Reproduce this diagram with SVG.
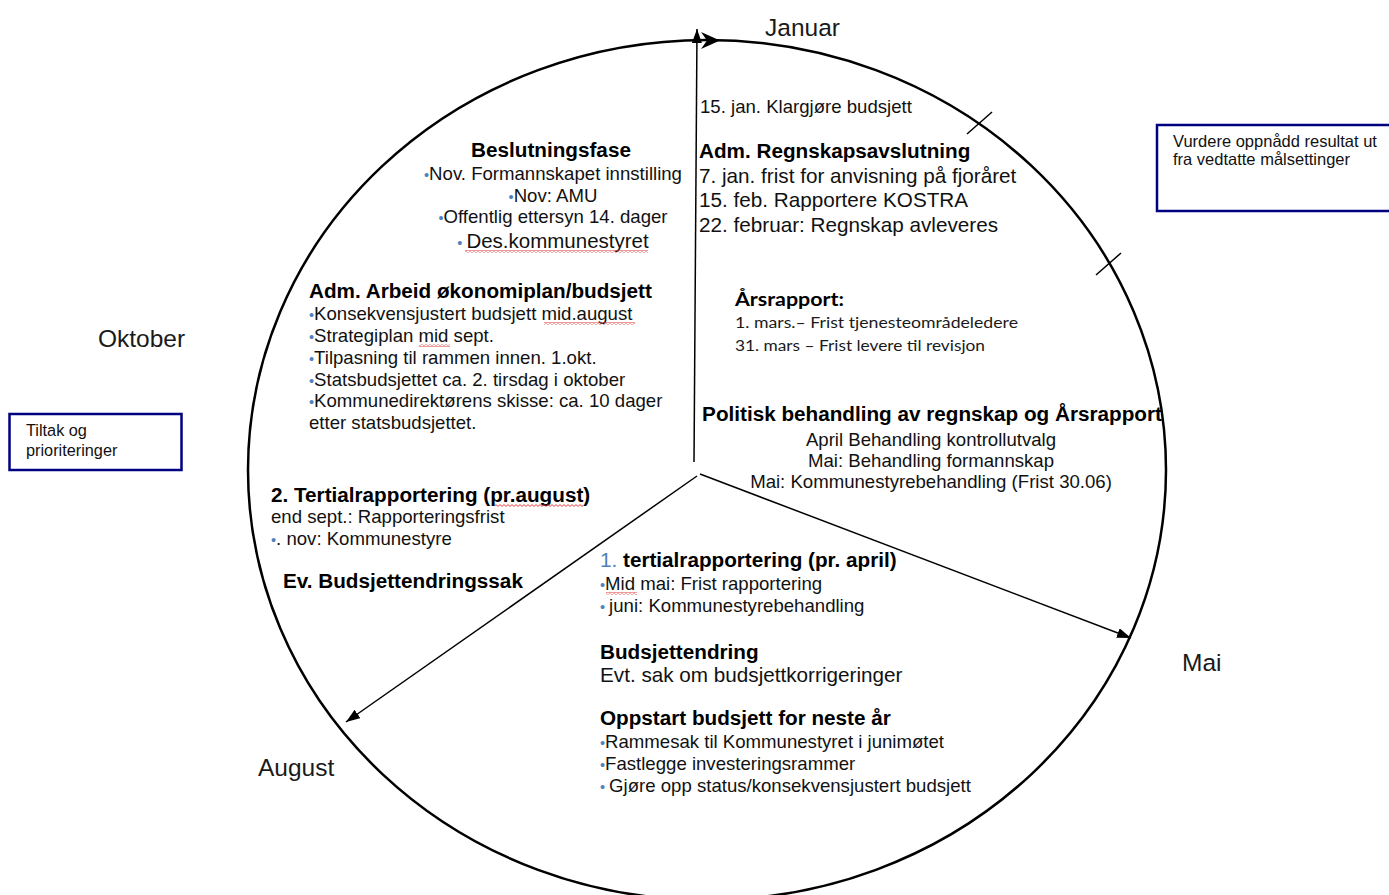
<svg xmlns="http://www.w3.org/2000/svg" width="1389" height="895" viewBox="0 0 1389 895">
<defs>
<style>
text{font-family:"Liberation Sans",Arial,sans-serif;fill:#111;}
.b{font-weight:bold;font-size:20.7px;fill:#000;}
.r{font-size:18.6px;}
.m{font-size:20.7px;}
.mo{font-size:24.5px;fill:#1a1a1a;}
.bl{fill:#4F81BD;font-size:14.5px;}
.cal{font-family:Lato,"Open Sans",sans-serif;fill:#1a1a1a;}
.box{fill:#fff;stroke:#000080;stroke-width:2.5;}
.bx{font-size:16.5px;}
.ln{stroke:#000;stroke-width:1.5;fill:none;}
</style>
<marker id="ah" markerUnits="userSpaceOnUse" markerWidth="16" markerHeight="12" refX="14" refY="5" orient="auto">
<path d="M0,0 L14,5 L0,10 z" fill="#000"/>
</marker>
<pattern id="sq" patternUnits="userSpaceOnUse" width="4" height="3">
<path d="M0,0.6 L2,2.4 L4,0.6" stroke="#e03030" stroke-width="0.9" fill="none"/>
</pattern>
</defs>

<g id="wheel">
<ellipse cx="707" cy="470" rx="459" ry="430" fill="none" stroke="#000" stroke-width="2.5"/>
<polygon points="701,32 720,40.5 701,49 707,40.5" fill="#000"/>
<line x1="967" y1="134" x2="992" y2="112" stroke="#000" stroke-width="1.5"/>
<line x1="1096" y1="275" x2="1121" y2="253" stroke="#000" stroke-width="1.5"/>
</g>

<g id="connectors">
<line class="ln" x1="694" y1="462" x2="697" y2="29" marker-end="url(#ah)"/>
<line class="ln" x1="700" y1="474" x2="1131" y2="638" marker-end="url(#ah)"/>
<line class="ln" x1="697" y1="476" x2="346" y2="722" marker-end="url(#ah)"/>
</g>

<g id="months">
<text class="mo" x="765" y="36">Januar</text>
<text class="mo" x="98" y="347">Oktober</text>
<text class="mo" x="1182" y="671">Mai</text>
<text class="mo" x="258" y="776">August</text>
</g>

<g id="klargjore">
<text class="r" x="700" y="113">15. jan. Klargjøre budsjett</text>
</g>

<g id="regnskapsavslutning">
<text class="b" x="699" y="158">Adm. Regnskapsavslutning</text>
<text class="m" x="699" y="183">7. jan. frist for anvisning på fjoråret</text>
<text class="m" x="699" y="207">15. feb. Rapportere KOSTRA</text>
<text class="m" x="699" y="232">22. februar: Regnskap avleveres</text>
</g>

<g id="beslutningsfase" text-anchor="middle">
<text class="b" x="551" y="157">Beslutningsfase</text>
<text class="r" x="553" y="180"><tspan class="bl">•</tspan>Nov. Formannskapet innstilling</text>
<text class="r" x="553" y="201.5"><tspan class="bl">•</tspan>Nov: AMU</text>
<text class="r" x="553" y="223"><tspan class="bl">•</tspan>Offentlig ettersyn 14. dager</text>
<text x="553" y="248" style="font-size:20.5px"><tspan class="bl">• </tspan>Des.kommunestyret</text>
<rect x="465" y="250" width="183" height="3" fill="url(#sq)"/>
</g>

<g id="adm-arbeid">
<text class="b" x="309" y="298">Adm. Arbeid økonomiplan/budsjett</text>
<text class="r" x="309" y="320"><tspan class="bl">•</tspan>Konsekvensjustert budsjett mid.august</text>
<text class="r" x="309" y="342"><tspan class="bl">•</tspan>Strategiplan mid sept.</text>
<text class="r" x="309" y="364"><tspan class="bl">•</tspan>Tilpasning til rammen innen. 1.okt.</text>
<text class="r" x="309" y="386"><tspan class="bl">•</tspan>Statsbudsjettet ca. 2. tirsdag i oktober</text>
<text class="r" x="309" y="407"><tspan class="bl">•</tspan>Kommunedirektørens skisse: ca. 10 dager</text>
<text class="r" x="309" y="429">etter statsbudsjettet.</text>
<rect x="544" y="322" width="91" height="3" fill="url(#sq)"/>
<rect x="419" y="344" width="31" height="3" fill="url(#sq)"/>
</g>

<g id="arsrapport">
<text class="cal" x="735" y="306" style="font-weight:bold;font-size:19px;fill:#000" textLength="109" lengthAdjust="spacingAndGlyphs">Årsrapport:</text>
<text class="cal" x="735" y="328" style="font-size:15.5px" textLength="283" lengthAdjust="spacingAndGlyphs">1. mars.–  Frist tjenesteområdeledere</text>
<text class="cal" x="735" y="351" style="font-size:15.5px" textLength="250" lengthAdjust="spacingAndGlyphs">31. mars – Frist levere til revisjon</text>
</g>

<g id="politisk" text-anchor="middle">
<text class="b" x="932" y="421">Politisk behandling av regnskap og Årsrapport</text>
<text class="r" x="931" y="446">April Behandling kontrollutvalg</text>
<text class="r" x="931" y="467">Mai: Behandling formannskap</text>
<text class="r" x="931" y="488">Mai: Kommunestyrebehandling (Frist 30.06)</text>
</g>

<g id="tertial2">
<text class="b" x="271" y="501.5">2. Tertialrapportering (pr.august)</text>
<rect x="495" y="504" width="88" height="3" fill="url(#sq)"/>
<text class="r" x="271" y="523">end sept.: Rapporteringsfrist</text>
<text class="r" x="271" y="545"><tspan class="bl">•</tspan>. nov: Kommunestyre</text>
<text class="b" x="283" y="588">Ev. Budsjettendringssak</text>
</g>

<g id="tertial1">
<text class="b" x="600" y="567"><tspan style="font-weight:normal;fill:#4F81BD">1. </tspan>tertialrapportering (pr. april)</text>
<text class="r" x="600" y="589.5"><tspan class="bl">•</tspan>Mid mai: Frist rapportering</text>
<rect x="606" y="592" width="31" height="3" fill="url(#sq)"/>
<text class="r" x="600" y="611.5"><tspan class="bl">• </tspan>juni: Kommunestyrebehandling</text>
</g>

<g id="budsjettendring">
<text class="b" x="600" y="658.5">Budsjettendring</text>
<text class="m" x="600" y="682">Evt. sak om budsjettkorrigeringer</text>
</g>

<g id="oppstart">
<text class="b" x="600" y="725">Oppstart budsjett for neste år</text>
<text class="r" x="600" y="748"><tspan class="bl">•</tspan>Rammesak til Kommunestyret i junimøtet</text>
<text class="r" x="600" y="770"><tspan class="bl">•</tspan>Fastlegge investeringsrammer</text>
<text class="r" x="600" y="792"><tspan class="bl">• </tspan>Gjøre opp status/konsekvensjustert budsjett</text>
</g>

<g id="box-vurdere">
<rect class="box" x="1157" y="125" width="240" height="86"/>
<text class="bx" x="1173" y="147">Vurdere oppnådd resultat ut</text>
<text class="bx" x="1173" y="165">fra vedtatte målsettinger</text>
</g>

<g id="box-tiltak">
<rect class="box" x="9.5" y="414" width="172" height="56"/>
<text x="26" y="436" style="font-size:16.3px">Tiltak og</text>
<text x="26" y="456" style="font-size:16.3px">prioriteringer</text>
</g>
</svg>
